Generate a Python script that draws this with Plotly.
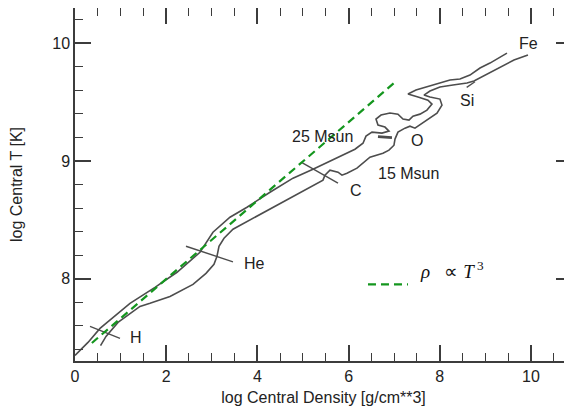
import plotly.graph_objects as go

# 25 Msun track (log central density, log central T)
rho_25 = [0.000, 0.285, 0.548, 0.833, 1.206, 1.754, 2.237, 2.741, 3.026, 3.399, 3.772, 4.276,
          4.781, 5.219, 5.746, 6.140, 6.316, 6.382, 6.513, 6.732, 6.886, 6.798, 6.645, 6.601,
          6.711, 6.908, 7.083, 7.193, 7.325, 7.412, 7.566, 7.719, 7.829, 7.741, 7.522, 7.303,
          7.478, 7.851, 8.224, 8.443, 8.662, 8.882, 9.101, 9.474]
t_25 = [7.347, 7.458, 7.577, 7.671, 7.790, 7.926, 8.054, 8.224, 8.394, 8.522, 8.607, 8.734,
        8.854, 8.930, 9.024, 9.100, 9.151, 9.211, 9.245, 9.237, 9.254, 9.288, 9.305, 9.356,
        9.390, 9.407, 9.398, 9.356, 9.347, 9.381, 9.398, 9.432, 9.483, 9.517, 9.543, 9.569,
        9.603, 9.645, 9.688, 9.696, 9.730, 9.790, 9.832, 9.917]

# 15 Msun track
rho_15 = [0.560, 0.680, 0.943, 1.206, 1.425, 1.645, 2.083, 2.588, 2.873, 3.048, 3.114, 3.158,
          3.268, 3.465, 3.904, 4.496, 5.066, 5.439, 5.482, 5.592, 5.768, 5.855, 5.965, 6.184,
          6.469, 6.754, 6.886, 6.996, 7.018, 7.083, 7.237, 7.346, 7.456, 7.588, 7.741, 7.939,
          8.048, 8.004, 7.785, 7.654, 7.785, 8.004, 8.289, 8.596, 8.750, 8.969, 9.320, 9.627,
          9.934]
t_15 = [7.430, 7.509, 7.628, 7.705, 7.764, 7.790, 7.849, 7.951, 8.045, 8.122, 8.190, 8.275,
        8.343, 8.420, 8.513, 8.641, 8.760, 8.837, 8.879, 8.922, 8.905, 8.879, 8.896, 8.939,
        9.032, 9.066, 9.092, 9.134, 9.186, 9.245, 9.279, 9.296, 9.279, 9.313, 9.356, 9.407,
        9.475, 9.526, 9.543, 9.560, 9.594, 9.628, 9.645, 9.662, 9.679, 9.722, 9.798, 9.858,
        9.900]

# burning-stage markers (short crossing segments)
stage_names = ["H", "He", "C", "O", "Si"]
stage_rho = [[0.329, 0.987], [2.434, 3.465], [4.978, 5.768], [6.645, 6.952], [8.590, 8.772]]
stage_t = [[7.594, 7.492], [8.275, 8.143], [8.986, 8.811], [9.207, 9.198], [9.626, 9.673]]

# rho ~ T^3 reference line
ref_rho = [0.37, 7.05]
ref_t = [7.453, 9.680]

# text labels
label_text = ["H", "He", "C", "O", "Si", "Fe", "25 Msun", "15 Msun"]
label_rho = [1.338, 3.947, 6.162, 7.493, 8.596, 9.941, 5.428, 7.309]
label_t = [7.500, 8.130, 8.751, 9.177, 9.517, 10.000, 9.211, 8.894]

x_ticks = [0, 2, 4, 6, 8, 10]
y_ticks = [8, 9, 10]

curve_col = "#4d4d4d"
axis_col = "#3c3c3c"
green = "#14961e"
font_sans = "Arial, Liberation Sans"

fig = go.Figure()
fig.add_trace(go.Scatter(x=rho_25, y=t_25, mode="lines", line=dict(color=curve_col, width=1.6),
                         showlegend=False, hoverinfo="skip"))
fig.add_trace(go.Scatter(x=rho_15, y=t_15, mode="lines", line=dict(color=curve_col, width=1.6),
                         showlegend=False, hoverinfo="skip"))
for name, xs, ys in zip(stage_names, stage_rho, stage_t):
    w = 2.6 if name == "O" else 1.4
    fig.add_trace(go.Scatter(x=xs, y=ys, mode="lines", line=dict(color=curve_col, width=w),
                             showlegend=False, hoverinfo="skip"))
fig.add_trace(go.Scatter(x=ref_rho, y=ref_t, mode="lines",
                         line=dict(color=green, width=2.2, dash="8px,5px"),
                         showlegend=False, hoverinfo="skip"))

for txt, xx, yy in zip(label_text, label_rho, label_t):
    fig.add_annotation(x=xx, y=yy, text=txt, showarrow=False,
                       font=dict(family=font_sans, size=16, color="#222222"))

# legend sample
fig.add_shape(type="line", xref="paper", yref="paper", x0=0.5895, x1=0.670, y0=0.2173, y1=0.2173,
              line=dict(color=green, width=2.2, dash="8px,5px"))
fig.add_annotation(xref="paper", yref="paper", x=0.690, y=0.2173, xanchor="left",
                   text="<i>ρ</i>\u00a0\u00a0\u00a0∝\u00a0<i>T</i><sup>\u00a03</sup>", showarrow=False,
                   font=dict(family="Liberation Serif", size=19, color="#111111"))

axis_common = dict(showline=True, linecolor=axis_col, linewidth=1.5, mirror="allticks",
                   ticks="inside", tickcolor=axis_col, tickwidth=1.5, ticklen=16,
                   showgrid=False, zeroline=False, automargin=False,
                   tickfont=dict(family=font_sans, size=16, color="#222222"),
                   title_font=dict(family=font_sans, size=16, color="#222222"))

fig.update_xaxes(range=[0, 10.9], tickvals=x_ticks, ticktext=[str(v) for v in x_ticks],
                 minor=dict(dtick=0.5, tick0=0, ticks="inside", ticklen=8, tickcolor=axis_col,
                            tickwidth=1.2),
                 title_text="log Central Density [g/cm**3]", title_standoff=8, **axis_common)
fig.update_yaxes(range=[7.3, 10.30], tickvals=y_ticks, ticktext=[str(v) for v in y_ticks],
                 minor=dict(dtick=0.2, tick0=0, ticks="inside", ticklen=8, tickcolor=axis_col,
                            tickwidth=1.2),
                 title_text="log Central T [K]", title_standoff=30, **axis_common)

# page body has an 8px default margin, so the figure is sized to fit inside the window
fig.update_layout(width=564, height=404, margin=dict(l=67, r=0, t=0, b=51),
                  plot_bgcolor="white", paper_bgcolor="white", showlegend=False)

fig.write_html("out.html")
